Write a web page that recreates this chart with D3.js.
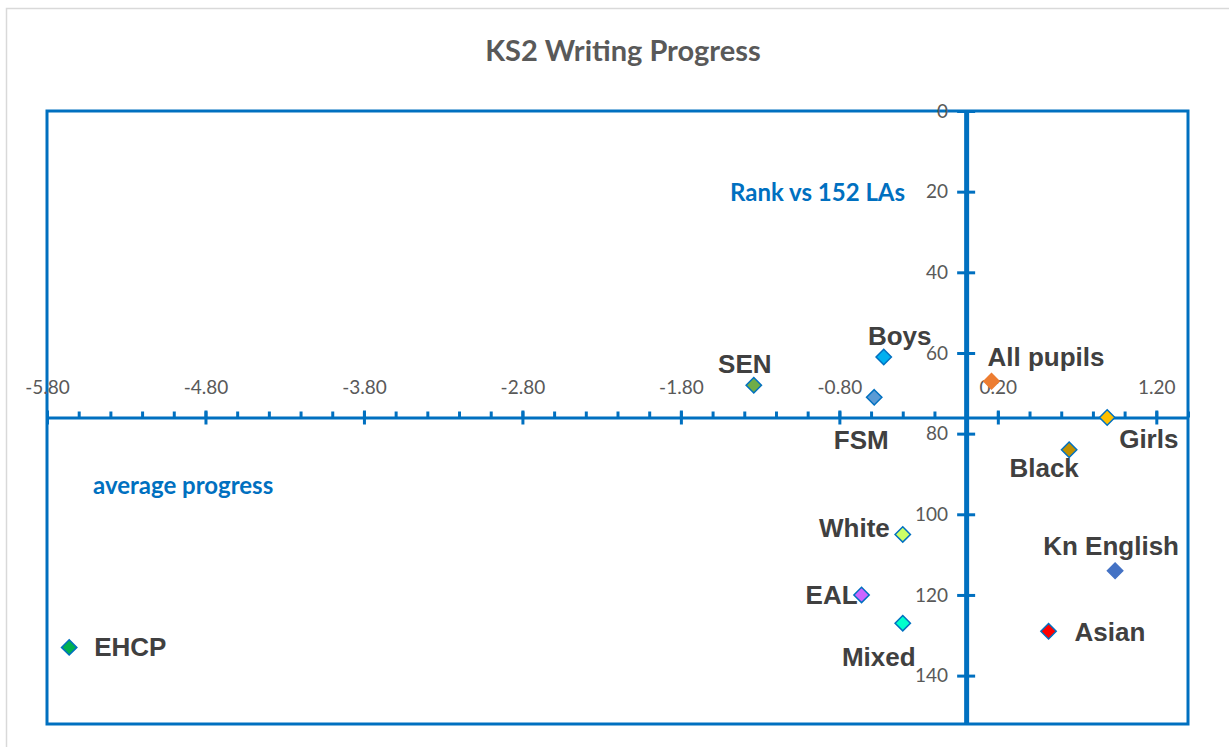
<!DOCTYPE html>
<html>
<head>
<meta charset="utf-8">
<script src="https://cdn.jsdelivr.net/npm/d3@7"></script>
<style>
  body { margin: 0; background: #fff; }
  svg { display: block; }
</style>
</head>
<body>
<div id="chart"></div>
<script>
// groups, average progress (x) and rank vs 152 LAs (y)
var groups   = ["EHCP", "SEN", "Boys", "FSM", "All pupils", "Girls", "Black", "White", "Kn English", "EAL", "Mixed", "Asian"];
var progress = [-5.66, -1.34, -0.52, -0.58, 0.16, 0.89, 0.65, -0.40, 0.94, -0.66, -0.40, 0.52];
var rank     = [133, 68, 61, 71, 67, 76, 84, 105, 114, 120, 127, 129];

var xTicks = [-5.8, -4.8, -3.8, -2.8, -1.8, -0.8, 0.2, 1.2];
var yTicks = [0, 20, 40, 60, 80, 100, 120, 140];

var fills = {
  "EHCP": "#00b050", "SEN": "#70ad47", "Boys": "#00b0f0", "FSM": "#5b9bd5",
  "All pupils": "#ed7d31", "Girls": "#ffc000", "Black": "#bf9000", "White": "#ccff66",
  "Kn English": "#4472c4", "EAL": "#cc66ff", "Mixed": "#00ffcc", "Asian": "#ff0000"
};
var strokes = { "All pupils": "#ed7d31", "Kn English": "#4472c4" };

// label placement relative to the marker: dx, dy (baseline), anchor
var labelPos = {
  "EHCP": [25, 9, "start"], "SEN": [-9, -12, "middle"], "Boys": [16, -12, "middle"],
  "FSM": [-13, 52, "middle"], "All pupils": [-4, -15, "start"], "Girls": [12, 30, "start"],
  "Black": [-25, 27, "middle"], "White": [-13, 3, "end"], "Kn English": [-4, -16, "middle"],
  "EAL": [-4, 9, "end"], "Mixed": [-24, 43, "middle"], "Asian": [26, 10, "start"]
};

var width = 1229, height = 747;
var blue = "#0070c0";
var uiFont = "Lato, 'Open Sans', sans-serif";

var svg = d3.select("#chart").append("svg")
    .attr("width", width).attr("height", height);

// chart area border
svg.append("rect")
    .attr("x", 6.5).attr("y", 8.5)
    .attr("width", 1240).attr("height", 760)
    .attr("fill", "#fff").attr("stroke", "#d9d9d9").attr("stroke-width", 1.5);

svg.append("text")
    .attr("x", 623).attr("y", 61)
    .attr("text-anchor", "middle")
    .style("font-family", uiFont)
    .style("font-weight", "bold")
    .style("font-size", "29px")
    .attr("fill", "#595959")
    .text("KS2 Writing Progress");

var x = d3.scaleLinear().domain([-5.8, 1.4]).range([47, 1188]);
var y = d3.scaleLinear().domain([0, 152]).range([111, 724]);

var xCross = 76; // x axis crosses at rank 76

// plot box
svg.append("rect")
    .attr("x", x(-5.8)).attr("y", y(0))
    .attr("width", x(1.4) - x(-5.8)).attr("height", y(152) - y(0))
    .attr("fill", "none").attr("stroke", blue).attr("stroke-width", 3);

// x axis minor ticks (every 0.2, upward)
var minor = d3.range(0, 37).map(function(i){ return -5.8 + i * 0.2; });
var xAxisMinor = d3.axisTop(x).tickValues(minor).tickSize(6).tickFormat("");
var gxm = svg.append("g")
    .attr("transform", "translate(0," + y(xCross) + ")")
    .call(xAxisMinor);
gxm.select(".domain").remove();
gxm.selectAll("line").attr("stroke", blue).attr("stroke-width", 3);

// x axis major ticks + labels
var fmt = d3.format(".2f");
var xAxis = d3.axisTop(x).tickValues(xTicks).tickSize(0).tickPadding(24)
    .tickFormat(function(d){ return fmt(d).replace("\u2212", "-"); });
var gx = svg.append("g")
    .attr("transform", "translate(0," + y(xCross) + ")")
    .call(xAxis);
gx.select(".domain").attr("stroke", blue).attr("stroke-width", 3);
gx.selectAll(".tick line").attr("y1", 7).attr("y2", -7)
    .attr("stroke", blue).attr("stroke-width", 3);
gx.selectAll("text")
    .style("font-family", uiFont)
    .style("font-size", "19px")
    .attr("fill", "#595959");

// y axis at x = 0
var yAxis = d3.axisLeft(y).tickValues(yTicks).tickSize(0).tickPadding(18);
var gy = svg.append("g")
    .attr("transform", "translate(" + x(0) + ",0)")
    .call(yAxis);
gy.select(".domain").attr("stroke", blue).attr("stroke-width", 5);
gy.selectAll(".tick line").attr("x1", -9).attr("x2", 9)
    .attr("stroke", blue).attr("stroke-width", 3);
gy.selectAll("text")
    .style("font-family", uiFont)
    .style("font-size", "19px")
    .attr("fill", "#595959");

// axis titles
svg.append("text")
    .attr("x", 730).attr("y", 201)
    .style("font-family", uiFont)
    .style("font-weight", "bold").style("font-size", "24px")
    .attr("fill", blue)
    .text("Rank vs 152 LAs");

svg.append("text")
    .attr("x", 93).attr("y", 494)
    .style("font-family", uiFont)
    .style("font-weight", "bold").style("font-size", "24px")
    .attr("fill", blue)
    .text("average progress");

// points
var data = groups.map(function(g, i){ return { name: g, v: progress[i], r: rank[i] }; });

var diamond = d3.symbol().type(d3.symbolDiamond2).size(150);

svg.selectAll(".pt")
    .data(data)
  .enter().append("path")
    .attr("class", "pt")
    .attr("d", diamond)
    .attr("transform", function(d){ return "translate(" + x(d.v) + "," + y(d.r) + ")"; })
    .attr("fill", function(d){ return fills[d.name]; })
    .attr("stroke", function(d){ return strokes[d.name] || blue; })
    .attr("stroke-width", 1.5);

svg.selectAll(".lbl")
    .data(data)
  .enter().append("text")
    .attr("class", "lbl")
    .attr("x", function(d){ return x(d.v) + labelPos[d.name][0]; })
    .attr("y", function(d){ return y(d.r) + labelPos[d.name][1]; })
    .attr("text-anchor", function(d){ return labelPos[d.name][2]; })
    .style("font-family", "'Liberation Sans', Arial, sans-serif")
    .style("font-weight", "bold")
    .style("font-size", "26px")
    .attr("fill", "#404040")
    .text(function(d){ return d.name; });
</script>
</body>
</html>
